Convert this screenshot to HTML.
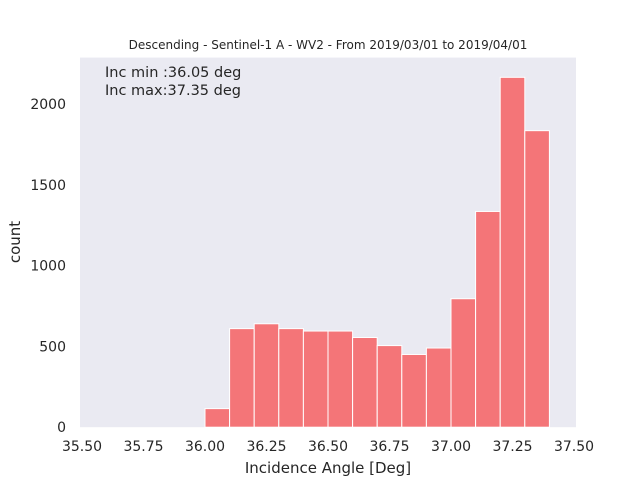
<!DOCTYPE html>
<html><head><meta charset="utf-8"><style>
body{margin:0;background:#fff;font-family:"DejaVu Sans","Liberation Sans",sans-serif;}
svg text{font-family:"DejaVu Sans","Liberation Sans",sans-serif;fill:#262626;}
</style></head><body>
<svg id="chart" width="640" height="480">
<rect x="80" y="57.6" width="496" height="369.6" fill="#eaeaf2"/>
<g id="bars"></g>
<g id="xticks"></g>
<g id="yticks"></g>
<text x="328" y="49" font-size="12" text-anchor="middle">Descending - Sentinel-1 A - WV2 - From 2019/03/01 to 2019/04/01</text>
<text x="105" y="77" font-size="14.5">Inc min :36.05 deg</text>
<text x="105" y="95" font-size="14.5">Inc max:37.35 deg</text>
<text x="328" y="473" font-size="15" text-anchor="middle">Incidence Angle [Deg]</text>
<text x="20" y="242" font-size="15" text-anchor="middle" transform="rotate(-90 20 242)">count</text>
</svg>
<script>
const binStarts=[36.0,36.1,36.2,36.3,36.4,36.5,36.6,36.7,36.8,36.9,37.0,37.1,37.2,37.3];
const counts=[115,610,640,610,595,595,555,505,450,490,795,1335,2165,1835];
const xTickLabels=["35.50","35.75","36.00","36.25","36.50","36.75","37.00","37.25","37.50"];
const yTickLabels=["0","500","1000","1500","2000"];
const binWidth=0.1;
const NS="http://www.w3.org/2000/svg";
const x=v=>82+(v-35.5)/2*492;
const y=v=>427.2-v/2000*(427.2-104);
const bars=document.getElementById('bars');
binStarts.forEach((b,i)=>{
 const r=document.createElementNS(NS,'rect');
 
 
 r.setAttribute('x',x(b));r.setAttribute('width',x(b+binWidth)-x(b));
 r.setAttribute('y',y(counts[i]));r.setAttribute('height',y(0)-y(counts[i]));
 r.setAttribute('fill','#f47578');r.setAttribute('stroke','#fff');r.setAttribute('stroke-width','1');
 bars.appendChild(r);
});
const xt=document.getElementById('xticks');
xTickLabels.forEach(l=>{
 const t=document.createElementNS(NS,'text');
 
 
 t.setAttribute('x',x(parseFloat(l)));t.setAttribute('y',451);
 t.setAttribute('font-size','14');t.setAttribute('text-anchor','middle');
 t.textContent=l;xt.appendChild(t);
});
const yt=document.getElementById('yticks');
yTickLabels.forEach(l=>{
 const t=document.createElementNS(NS,'text');
 
 
 t.setAttribute('x',66);t.setAttribute('y',y(parseFloat(l))+5);
 t.setAttribute('font-size','14');t.setAttribute('text-anchor','end');
 t.textContent=l;yt.appendChild(t);
});
</script>
</body></html>
